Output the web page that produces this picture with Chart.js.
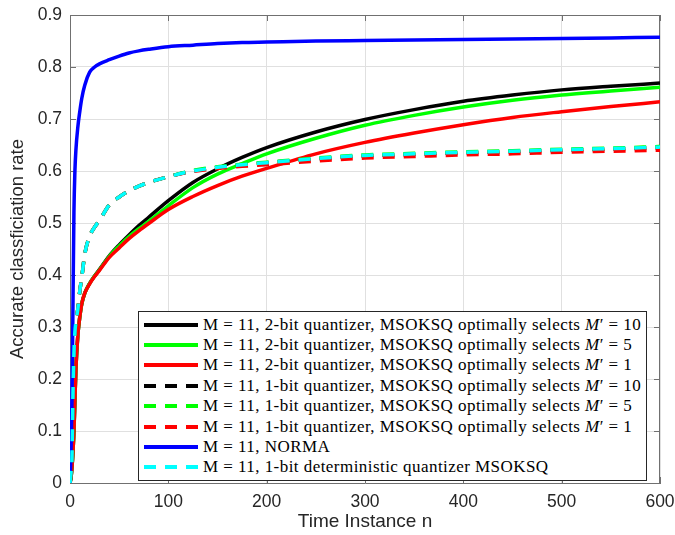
<!DOCTYPE html>
<html><head><meta charset="utf-8">
<script src="https://cdn.jsdelivr.net/npm/chart.js@4.4.1/dist/chart.umd.min.js"></script>
<style>
html,body{margin:0;padding:0;background:#fff;}
#wrap{position:relative;width:675px;height:535px;}
#legend{position:absolute;left:138px;top:311px;width:507px;height:168px;border:1px solid #262626;background:#fff;font-family:"Liberation Serif",serif;font-size:17px;letter-spacing:0.45px;color:#000;}
.row{position:absolute;left:0;height:20px;display:flex;align-items:center;white-space:nowrap;}
.row svg{margin-left:5px;margin-right:5px;flex:none;}
</style></head>
<body><div id="wrap"><canvas id="c" width="675" height="535"></canvas><div id="legend"></div></div>
<script>
// ---- data ----
const timeN   = [0,1,2,3,4,5,6,8,10,12,15,20,25,30,40,50,60,70,80,100,125,150,175,200,250,300,350,400,450,500,550,600];
const twoBit10 = [0,0.01,0.03,0.06,0.10,0.16,0.22,0.285,0.32,0.345,0.365,0.384,0.398,0.411,0.437,0.458,0.477,0.495,0.511,0.543,0.578,0.604,0.626,0.645,0.675,0.699,0.718,0.734,0.746,0.756,0.763,0.769];
const twoBit5  = [0,0.01,0.03,0.06,0.10,0.16,0.22,0.285,0.32,0.345,0.365,0.384,0.398,0.410,0.436,0.456,0.474,0.489,0.503,0.533,0.568,0.594,0.614,0.633,0.663,0.688,0.707,0.723,0.736,0.746,0.754,0.761];
const twoBit1  = [0,0.01,0.03,0.06,0.10,0.16,0.22,0.285,0.32,0.345,0.365,0.383,0.397,0.409,0.434,0.452,0.470,0.485,0.499,0.526,0.551,0.572,0.590,0.605,0.633,0.655,0.673,0.689,0.703,0.714,0.724,0.733];
const oneBit10 = [0,0.02,0.05,0.17,0.25,0.29,0.31,0.335,0.37,0.396,0.44,0.475,0.492,0.505,0.535,0.550,0.562,0.571,0.578,0.589,0.600,0.607,0.612,0.616,0.623,0.629,0.632,0.635,0.637,0.640,0.642,0.645];
const oneBit5  = [0,0.02,0.05,0.17,0.25,0.29,0.31,0.335,0.37,0.396,0.44,0.475,0.492,0.505,0.535,0.550,0.562,0.571,0.578,0.589,0.601,0.608,0.613,0.617,0.625,0.631,0.634,0.637,0.639,0.642,0.644,0.647];
const oneBit1  = [0,0.02,0.05,0.17,0.25,0.29,0.31,0.335,0.37,0.396,0.44,0.475,0.492,0.505,0.535,0.550,0.562,0.571,0.578,0.589,0.599,0.605,0.609,0.612,0.619,0.625,0.628,0.631,0.633,0.636,0.638,0.640];
const norma    = [0,0.06,0.16,0.34,0.52,0.60,0.64,0.685,0.715,0.74,0.765,0.79,0.80,0.806,0.814,0.821,0.827,0.831,0.834,0.839,0.842,0.845,0.847,0.848,0.850,0.851,0.852,0.853,0.854,0.855,0.856,0.857];
const detQuant = [0,0.02,0.05,0.17,0.25,0.29,0.31,0.335,0.37,0.396,0.44,0.475,0.492,0.505,0.535,0.550,0.562,0.571,0.578,0.589,0.600,0.607,0.612,0.616,0.624,0.630,0.633,0.636,0.638,0.641,0.643,0.646];
const seriesLabels = [
  "M = 11, 2-bit quantizer, MSOKSQ optimally selects M′ = 10",
  "M = 11, 2-bit quantizer, MSOKSQ optimally selects M′ = 5",
  "M = 11, 2-bit quantizer, MSOKSQ optimally selects M′ = 1",
  "M = 11, 1-bit quantizer, MSOKSQ optimally selects M′ = 10",
  "M = 11, 1-bit quantizer, MSOKSQ optimally selects M′ = 5",
  "M = 11, 1-bit quantizer, MSOKSQ optimally selects M′ = 1",
  "M = 11, NORMA",
  "M = 11, 1-bit deterministic quantizer MSOKSQ"
];
const xTicks = [0,100,200,300,400,500,600];
const yTicks = [0,0.1,0.2,0.3,0.4,0.5,0.6,0.7,0.8,0.9];

// ---- styles ----
const seriesValues = [twoBit10,twoBit5,twoBit1,oneBit10,oneBit5,oneBit1,norma,detQuant];
const seriesColors = ['#000000','#00ff00','#ff0000','#000000','#00ff00','#ff0000','#0000ff','#00ffff'];
const DASH = [12,9];
const seriesDash = [[],[],[],DASH,DASH,DASH,[],DASH];
const AXIS = '#707070';

const datasets = seriesValues.map((vals,i)=>({
  label: seriesLabels[i],
  data: vals.map((v,k)=>({x: timeN[k], y: v})),
  borderColor: seriesColors[i],
  backgroundColor: seriesColors[i],
  borderDash: seriesDash[i],
  borderWidth: 3.5,
  pointRadius: 0,
  fill: false,
  cubicInterpolationMode: 'monotone',
  order: seriesValues.length - 1 - i
}));

const frame = {
  id: 'frame',
  beforeDatasetsDraw(chart){
    const {ctx, chartArea:a, scales:{x, y}} = chart;
    ctx.save();
    ctx.strokeStyle = AXIS; ctx.lineWidth = 1;
    ctx.beginPath();
    ctx.moveTo(a.left, a.top+0.5); ctx.lineTo(a.right, a.top+0.5);
    ctx.moveTo(a.right-0.5, a.top); ctx.lineTo(a.right-0.5, a.bottom);
    const L = 6;
    xTicks.forEach(v=>{ const p = Math.round(x.getPixelForValue(v))+0.5;
      ctx.moveTo(p, a.bottom); ctx.lineTo(p, a.bottom-L);
      ctx.moveTo(p, a.top); ctx.lineTo(p, a.top+L); });
    yTicks.forEach(v=>{ const p = Math.round(y.getPixelForValue(v))+0.5;
      ctx.moveTo(a.left, p); ctx.lineTo(a.left+L, p);
      ctx.moveTo(a.right, p); ctx.lineTo(a.right-L, p); });
    ctx.stroke();
    ctx.restore();
  }
};

const htmlLegend = {
  id: 'htmlLegend',
  afterUpdate(chart){
    const box = document.getElementById('legend');
    box.innerHTML = '';
    chart.data.datasets.forEach((ds,i)=>{
      const row = document.createElement('div');
      row.className = 'row';
      row.style.top = (2.6 + i*20.4) + 'px';
      const ns = 'http://www.w3.org/2000/svg';
      const svg = document.createElementNS(ns,'svg');
      svg.setAttribute('width','54'); svg.setAttribute('height','6');
      const ln = document.createElementNS(ns,'line');
      ln.setAttribute('x1','0'); ln.setAttribute('x2','54');
      ln.setAttribute('y1','3'); ln.setAttribute('y2','3');
      ln.setAttribute('stroke', ds.borderColor);
      ln.setAttribute('stroke-width','4');
      if (ds.borderDash && ds.borderDash.length) ln.setAttribute('stroke-dasharray', ds.borderDash.join(' '));
      svg.appendChild(ln);
      row.appendChild(svg);
      const txt = document.createElement('span');
      ds.label.split('M′').forEach((part,j)=>{
        if (j>0){ const it = document.createElement('i'); it.textContent='M'; txt.appendChild(it); txt.appendChild(document.createTextNode('′')); }
        txt.appendChild(document.createTextNode(part));
      });
      row.appendChild(txt);
      box.appendChild(row);
    });
  }
};

new Chart(document.getElementById('c'), {
  type: 'line',
  data: { datasets },
  plugins: [frame, htmlLegend],
  options: {
    responsive: false,
    animation: false,
    devicePixelRatio: 1,
    layout: { padding: { top: 15, right: 15, left: 0, bottom: 0 } },
    plugins: { legend: { display: false }, tooltip: { enabled: false } },
    scales: {
      x: {
        type: 'linear', min: 0, max: 600,
        afterBuildTicks: s => { s.ticks = xTicks.map(v=>({value:v})); },
        afterFit: s => { s.height = 52; s.paddingLeft = 0; s.paddingRight = 0; },
        grid: { color: '#e0e0e0', drawTicks: false },
        border: { color: AXIS, width: 1 },
        ticks: { padding: 9, color: '#262626', font: { family: 'Liberation Sans', size: 17.5 }, callback: v => String(v), maxRotation: 0 },
        title: { display: true, text: 'Time Instance n', color: '#262626', font: { family: 'Liberation Sans', size: 19, lineHeight: 1.2 }, padding: { top: 0, bottom: 2 } }
      },
      y: {
        min: 0, max: 0.9,
        afterBuildTicks: s => { s.ticks = yTicks.map(v=>({value:v})); },
        afterFit: s => { s.width = 70; s.paddingTop = 0; s.paddingBottom = 0; },
        grid: { color: '#e0e0e0', drawTicks: false },
        border: { color: AXIS, width: 1 },
        ticks: { padding: 8, color: '#262626', font: { family: 'Liberation Sans', size: 17.5 }, callback: v => v === 0 ? '0' : v.toFixed(1) },
        title: { display: true, text: 'Accurate classficiation rate', color: '#262626', font: { family: 'Liberation Sans', size: 18.5, lineHeight: 1.2 }, padding: { top: 7, bottom: 0 } }
      }
    }
  }
});
</script>
</body></html>
